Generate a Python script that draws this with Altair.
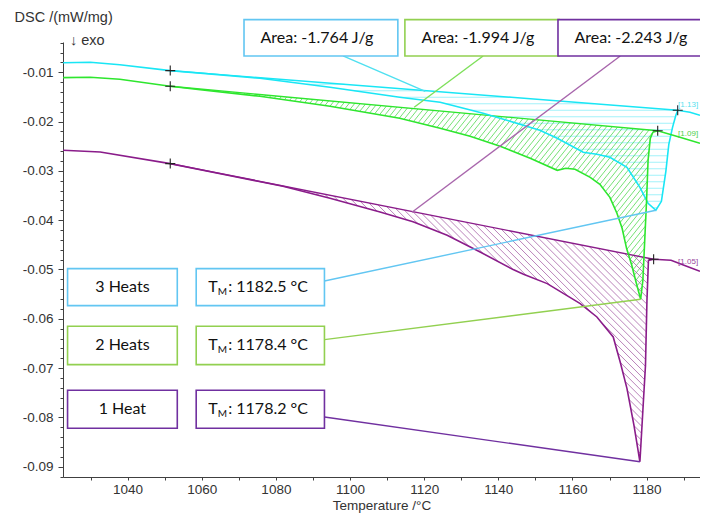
import numpy as np
import pandas as pd
import altair as alt

# ---------------- data ----------------
SERIES = ["3 Heats", "2 Heats", "1 Heat"]

T_3 = [1022.6, 1029.9, 1037.9, 1051.5, 1059.6, 1075.7, 1094.6, 1113.4, 1124.3, 1135.9,
       1142.3, 1151.2, 1155.9, 1162.9, 1166.6, 1170.1, 1174.7, 1178.2, 1180.4, 1182.5,
       1184.0, 1185.2, 1186.0, 1187.0, 1187.9, 1188.4, 1191.7, 1194.4]
V_3 = [-0.00807, -0.00797, -0.00848, -0.00966, -0.01016, -0.01122, -0.01304, -0.01507, -0.01609, -0.01832,
       -0.01974, -0.02177, -0.02339, -0.02623, -0.02663, -0.02724, -0.02927, -0.03333, -0.03657, -0.03799,
       -0.03617, -0.03008, -0.02460, -0.02116, -0.01872, -0.01771, -0.01811, -0.01872]

T_2 = [1022.6, 1029.9, 1037.9, 1051.5, 1059.6, 1075.7, 1094.6, 1113.4, 1124.3, 1132.4,
       1140.5, 1148.6, 1155.9, 1158.2, 1160.7, 1164.8, 1167.4, 1170.1, 1172.0, 1173.4,
       1174.6, 1176.0, 1177.1, 1178.4, 1179.0, 1179.5, 1180.0, 1180.4, 1181.0, 1181.7,
       1183.0, 1189.0, 1194.4]
V_2 = [-0.01108, -0.01101, -0.01142, -0.01284, -0.01355, -0.01487, -0.01690, -0.01933, -0.02136, -0.02298,
       -0.02501, -0.02744, -0.02988, -0.02947, -0.02968, -0.03130, -0.03272, -0.03536, -0.03860, -0.04164,
       -0.04570, -0.04915, -0.05239, -0.05604, -0.05219, -0.04408, -0.03596, -0.02785, -0.02339, -0.02217,
       -0.02187, -0.02318, -0.02440]

T_1 = [1022.6, 1032.6, 1051.5, 1067.7, 1081.9, 1094.6, 1108.1, 1117.0, 1126.2, 1135.1,
       1144.0, 1146.8, 1153.2, 1162.1, 1166.6, 1171.0, 1172.9, 1174.7, 1176.6, 1177.7,
       1178.2, 1179.0, 1179.7, 1180.1, 1180.5, 1181.9, 1186.6, 1190.1, 1194.4]
V_1 = [-0.02582, -0.02617, -0.02852, -0.03099, -0.03312, -0.03556, -0.03834, -0.04030, -0.04306, -0.04645,
       -0.05002, -0.05097, -0.05286, -0.05692, -0.05963, -0.06369, -0.06882, -0.07410, -0.08160, -0.08667,
       -0.08900, -0.07859, -0.06946, -0.05628, -0.04817, -0.04793, -0.04813, -0.04915, -0.05037]

CURVES_T = [T_3, T_2, T_1]
CURVES_V = [V_3, V_2, V_1]

BASE_T0 = [1051.5, 1051.5, 1051.5]        # left integration limits
BASE_T1 = [1188.4, 1183.0, 1181.9]        # right integration limits
TM = [1182.5, 1178.4, 1178.2]             # peak temperatures
AREA = ["-1.764", "-1.994", "-2.243"]     # J/g
END_TAGS = ["[1.13]", "[1.09]", "[1.05]"]

X_TICKS = [1030, 1040, 1050, 1060, 1070, 1080, 1090, 1100, 1110, 1120,
           1130, 1140, 1150, 1160, 1170, 1180, 1190]
Y_TICKS = [-0.092, -0.090, -0.088, -0.086, -0.084, -0.082, -0.080, -0.078, -0.076, -0.074,
           -0.072, -0.070, -0.068, -0.066, -0.064, -0.062, -0.060, -0.058, -0.056, -0.054,
           -0.052, -0.050, -0.048, -0.046, -0.044, -0.042, -0.040, -0.038, -0.036, -0.034,
           -0.032, -0.030, -0.028, -0.026, -0.024, -0.022, -0.020, -0.018, -0.016, -0.014,
           -0.012, -0.010, -0.008, -0.006, -0.004]

# ---------------- layout / style ----------------
XDOM = [1022.57, 1194.41]
YDOM = [-0.09209, -0.003854]
W, H = 637, 435

CURVE_COL = ["#19e6f5", "#2ee62e", "#8a1c8a"]
HATCH_COL = ["#86eef8", "#4ad84a", "#a45ca4"]
BOX_COL = ["#62c6f2", "#92d050", "#7030a0"]
AREA_LINK_COL = ["#4fe0f0", "#7ee05a", "#a866ac"]
TAG_COL = ["#59dfee", "#4ccf4c", "#9a4aa0"]
HATCH_DIR = [(1.0, 0.0), (1.0, -1.25), (1.0, 1.0)]
HATCH_GAP = [6.5, 4.4, 5.0]

LABEL_BOX_T = [1023.8, 1053.4]
TM_BOX_T = [1058.5, 1093.1]
ROW_BOX_V = [[-0.04982, -0.05732], [-0.06152, -0.06929], [-0.07450, -0.08221]]
TM_LINK_V0 = [-0.05233, -0.06422, -0.07992]
AREA_BOX_T = [[1071.4, 1112.9], [1114.8, 1156.4], [1156.1, 1197.6]]
AREA_BOX_V = [0.00069, -0.00669]
AREA_LINK_T0 = [1098.1, 1135.9, 1172.9]
AREA_LINK_END = [[1120.3, -0.01385], [1117.3, -0.01710], [1116.7, -0.03840]]
TAG_POS = [[1188.5, -0.01655], [1188.5, -0.02247], [1188.5, -0.04854]]

FONT_AX = "Liberation Sans"
FONT_BOX = "Lato"


def pick(ts, vs, t):
    return vs[ts.index(t)]


def to_px(t, v):
    return ((t - XDOM[0]) / (XDOM[1] - XDOM[0]) * W,
            (YDOM[1] - v) / (YDOM[1] - YDOM[0]) * H)


def to_data(px, py):
    return (XDOM[0] + px / W * (XDOM[1] - XDOM[0]),
            YDOM[1] - py / H * (YDOM[1] - YDOM[0]))


def hatch_segments(ts, vs, t0, t1, direction, spacing):
    poly = np.array([to_px(t, v) for t, v in zip(ts, vs) if t0 <= t <= t1])
    d = np.asarray(direction, float)
    d = d / np.hypot(*d)
    n = np.array([-d[1], d[0]])
    proj = poly @ n
    out = []
    c = np.floor(proj.min() / spacing) * spacing + spacing * 0.5
    while c < proj.max():
        hits = []
        m = len(poly)
        for i in range(m):
            a = poly[i]
            b = poly[(i + 1) % m]
            pa = a @ n - c
            pb = b @ n - c
            if (pa < 0) != (pb < 0):
                s = pa / (pa - pb)
                hits.append((a + s * (b - a)) @ d)
        hits.sort()
        for k in range(0, len(hits) - 1, 2):
            p1 = c * n + hits[k] * d
            p2 = c * n + hits[k + 1] * d
            ta, va = to_data(*p1)
            tb, vb = to_data(*p2)
            out.append((ta, va, tb, vb))
        c += spacing
    return out


# ---------------- tables ----------------
rows_curve, rows_base, rows_mark, rows_hatch = [], [], [], []
rows_link, rows_box = [], []
for s in range(3):
    ts, vs = CURVES_T[s], CURVES_V[s]
    for i, (t, v) in enumerate(zip(ts, vs)):
        rows_curve.append(dict(s=SERIES[s], t=t, v=v, i=i, c=CURVE_COL[s]))
    va0 = pick(ts, vs, BASE_T0[s])
    va1 = pick(ts, vs, BASE_T1[s])
    rows_base += [dict(s=SERIES[s], t=BASE_T0[s], v=va0, i=0, c=CURVE_COL[s]),
                  dict(s=SERIES[s], t=BASE_T1[s], v=va1, i=1, c=CURVE_COL[s])]
    rows_mark += [dict(t=BASE_T0[s], v=va0), dict(t=BASE_T1[s], v=va1)]
    for (ta, va, tb, vb) in hatch_segments(ts, vs, BASE_T0[s], BASE_T1[s], HATCH_DIR[s], HATCH_GAP[s]):
        rows_hatch.append(dict(t=ta, v=va, t2=tb, v2=vb, c=HATCH_COL[s]))
    vmin = pick(ts, vs, TM[s])
    rows_link.append(dict(t=TM_BOX_T[1], v=TM_LINK_V0[s], t2=TM[s], v2=vmin, c=BOX_COL[s]))
    rows_link.append(dict(t=AREA_LINK_T0[s], v=AREA_BOX_V[1], t2=AREA_LINK_END[s][0],
                          v2=AREA_LINK_END[s][1], c=AREA_LINK_COL[s]))
    rows_box.append(dict(t=LABEL_BOX_T[0], t2=LABEL_BOX_T[1], v=ROW_BOX_V[s][0], v2=ROW_BOX_V[s][1], c=BOX_COL[s]))
    rows_box.append(dict(t=TM_BOX_T[0], t2=TM_BOX_T[1], v=ROW_BOX_V[s][0], v2=ROW_BOX_V[s][1], c=BOX_COL[s]))
    rows_box.append(dict(t=AREA_BOX_T[s][0], t2=AREA_BOX_T[s][1], v=AREA_BOX_V[0], v2=AREA_BOX_V[1], c=BOX_COL[s]))

df_curve = pd.DataFrame(rows_curve)
df_base = pd.DataFrame(rows_base)
df_mark = pd.DataFrame(rows_mark)
df_hatch = pd.DataFrame(rows_hatch)
df_link = pd.DataFrame(rows_link)
df_box = pd.DataFrame(rows_box)

row_mid = [(a + b) / 2 for a, b in ROW_BOX_V]
df_lab = pd.DataFrame(dict(t=[(LABEL_BOX_T[0] + LABEL_BOX_T[1]) / 2] * 3, v=row_mid, txt=SERIES))
df_tm = pd.DataFrame(dict(t=[TM_BOX_T[0]] * 3, v=row_mid,
                          txt=[f": {x:.1f} \u00b0C" for x in TM]))
df_area = pd.DataFrame(dict(t=[(a + b) / 2 for a, b in AREA_BOX_T],
                            v=[(AREA_BOX_V[0] + AREA_BOX_V[1]) / 2] * 3,
                            txt=[f"Area: {a} J/g" for a in AREA]))
df_tag = pd.DataFrame(dict(t=[p[0] for p in TAG_POS], v=[p[1] for p in TAG_POS],
                           txt=END_TAGS, c=TAG_COL))
df_exo = pd.DataFrame(dict(t=[XDOM[0]], v=[YDOM[1]], txt=["\u2193 exo"]))

xs = alt.Scale(domain=XDOM, nice=False, zero=False)
ys = alt.Scale(domain=YDOM, nice=False, zero=False)

MAJOR = "abs(datum.value*100 - round(datum.value*100)) < 0.01"

x_axis = alt.Axis(values=X_TICKS, labelExpr="datum.value % 20 == 0 ? format(datum.value, 'd') : ''",
                  title="Temperature /\u00b0C", grid=False, tickSize=3, labelPadding=2,
                  titlePadding=3, labelOverlap=False, labelFont=FONT_AX, labelFontSize=13.5,
                  titleFont=FONT_AX, titleFontSize=13.5, titleFontWeight="normal",
                  labelColor="#333333", titleColor="#333333", domainColor="#404040",
                  tickColor="#404040")
y_axis = alt.Axis(values=Y_TICKS,
                  labelExpr=MAJOR + " ? '-' + format(abs(datum.value), '.2f') : ''",
                  title="DSC /(mW/mg)", titleAngle=0, titleX=-49, titleY=-25,
                  titleAlign="left", titleBaseline="middle", grid=False,
                  tickSize={"condition": {"test": MAJOR, "value": 5}, "value": 3},
                  labelPadding=5, labelOverlap=False, labelFont=FONT_AX, labelFontSize=13.5,
                  titleFont=FONT_AX, titleFontSize=14.5, titleFontWeight="normal",
                  labelColor="#333333", titleColor="#333333", domainColor="#404040",
                  tickColor="#404040")


def X(f="t"):
    return alt.X(f"{f}:Q", scale=xs, axis=x_axis)


def Y(f="v"):
    return alt.Y(f"{f}:Q", scale=ys, axis=y_axis)


hatch = alt.Chart(df_hatch).mark_rule(strokeWidth=0.9, opacity=0.85).encode(
    x=X(), y=Y(), x2="t2:Q", y2="v2:Q", color=alt.Color("c:N", scale=None))

base = alt.Chart(df_base).mark_line(strokeWidth=1.4).encode(
    x=X(), y=Y(), detail="s:N", order="i:Q", color=alt.Color("c:N", scale=None))

curves = alt.Chart(df_curve).mark_line(strokeWidth=1.6).encode(
    x=X(), y=Y(), detail="s:N", order="i:Q", color=alt.Color("c:N", scale=None))

marks = alt.Chart(df_mark).mark_point(shape="M-1,0L1,0M0,-1L0,1", size=100, filled=False,
                                      strokeWidth=1.1, color="#222222", opacity=1).encode(
    x=X(), y=Y())

links = alt.Chart(df_link).mark_rule(strokeWidth=1.4).encode(
    x=X(), y=Y(), x2="t2:Q", y2="v2:Q", color=alt.Color("c:N", scale=None))

boxes = alt.Chart(df_box).mark_rect(fill="white", strokeWidth=1.6).encode(
    x=X(), x2="t2:Q", y=Y(), y2="v2:Q", stroke=alt.Stroke("c:N", scale=None))

txt_lab = alt.Chart(df_lab).mark_text(font=FONT_BOX, fontSize=16, color="#111111",
                                      align="center", baseline="middle").encode(
    x=X(), y=Y(), text="txt:N")
txt_T = alt.Chart(df_tm).mark_text(font=FONT_BOX, fontSize=16, color="#111111",
                                   align="left", baseline="middle", dx=12).encode(
    x=X(), y=Y(), text=alt.value("T"))
txt_M = alt.Chart(df_tm).mark_text(font=FONT_BOX, fontSize=10, color="#111111",
                                   align="left", baseline="middle", dx=21.5, dy=5).encode(
    x=X(), y=Y(), text=alt.value("M"))
txt_tm = alt.Chart(df_tm).mark_text(font=FONT_BOX, fontSize=16, color="#111111",
                                    align="left", baseline="middle", dx=32).encode(
    x=X(), y=Y(), text="txt:N")
txt_area = alt.Chart(df_area).mark_text(font=FONT_BOX, fontSize=16, color="#111111",
                                        align="center", baseline="middle", dx=-4).encode(
    x=X(), y=Y(), text="txt:N")
txt_tag = alt.Chart(df_tag).mark_text(font=FONT_AX, fontSize=8, align="left",
                                      baseline="middle").encode(
    x=X(), y=Y(), text="txt:N", color=alt.Color("c:N", scale=None))
txt_exo = alt.Chart(df_exo).mark_text(
    font=FONT_AX, fontSize=14.5, color="#333333", align="left", baseline="middle",
    dx=7, dy=-1.5).encode(x=X(), y=Y(), text="txt:N")

chart = alt.layer(
    hatch, base, curves, marks, links, boxes,
    txt_lab, txt_T, txt_M, txt_tm, txt_area, txt_tag, txt_exo
).properties(
    width=W, height=H, autosize="none",
    padding={"left": 55, "top": 34, "right": 0, "bottom": 37},
    background="white"
).configure_view(stroke=None)

chart.save("out.html", embed_options={"renderer": "svg", "actions": False})
